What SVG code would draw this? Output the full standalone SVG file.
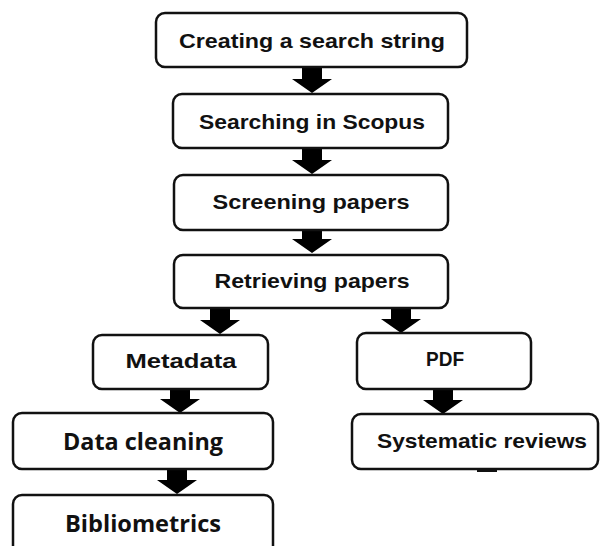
<svg xmlns="http://www.w3.org/2000/svg" xmlns:xlink="http://www.w3.org/1999/xlink" width="600" height="546" viewBox="0 0 600 546">
<style>
.box{fill:#fff;stroke:#111;stroke-width:2.5}
.t{font-family:"Liberation Sans",Arial,sans-serif;font-weight:bold;font-size:21px;fill:#111;text-anchor:middle}
.c{font-family:"Open Sans","Liberation Sans",sans-serif;font-weight:bold;font-size:23px;fill:#111;text-anchor:middle}
.arr{fill:#000}
</style>
<defs>
<path id="arr" d="M-10,-32 H10 V-14 H20 L0,0 L-20,-14 H-10 Z"/>
</defs>
<rect width="600" height="546" fill="#fff"/>
<g id="connectors" class="arr">
<use xlink:href="#arr" x="312" y="93"/>
<use xlink:href="#arr" x="312" y="174"/>
<use xlink:href="#arr" x="312" y="253"/>
<use xlink:href="#arr" x="220" y="334"/>
<use xlink:href="#arr" x="401" y="333"/>
<use xlink:href="#arr" x="180" y="413"/>
<use xlink:href="#arr" x="177" y="494"/>
<use xlink:href="#arr" x="443" y="414"/>
</g>
<g id="n1"><rect class="box" x="156" y="13" width="311" height="54" rx="9"/><text class="t" x="312" y="48" textLength="266" lengthAdjust="spacingAndGlyphs">Creating a search string</text></g>
<g id="n2"><rect class="box" x="173" y="94" width="275" height="54" rx="9"/><text class="t" x="312" y="129" textLength="226" lengthAdjust="spacingAndGlyphs">Searching in Scopus</text></g>
<g id="n3"><rect class="box" x="174" y="175" width="274" height="55" rx="9"/><text class="t" x="311" y="209" textLength="197" lengthAdjust="spacingAndGlyphs">Screening papers</text></g>
<g id="n4"><rect class="box" x="174" y="255" width="274" height="53" rx="9"/><text class="t" x="312" y="288" textLength="195" lengthAdjust="spacingAndGlyphs">Retrieving papers</text></g>
<g id="n5"><rect class="box" x="93" y="335" width="175" height="54" rx="9"/><text class="t" x="181" y="368" textLength="111" lengthAdjust="spacingAndGlyphs">Metadata</text></g>
<g id="n6"><rect class="box" x="357" y="333" width="174" height="56" rx="9"/><text class="t" x="445" y="366" textLength="38" lengthAdjust="spacingAndGlyphs">PDF</text></g>
<g id="n7"><rect class="box" x="13" y="413" width="260" height="56" rx="9"/><text class="c" x="143" y="450" textLength="160" lengthAdjust="spacingAndGlyphs">Data cleaning</text></g>
<g id="n8"><rect class="box" x="352" y="414" width="246" height="55" rx="9"/><text class="t" x="482" y="448" textLength="210" lengthAdjust="spacingAndGlyphs">Systematic reviews</text><rect x="477" y="469" width="20" height="3" fill="#111"/></g>
<g id="n9"><rect class="box" x="13" y="495" width="260" height="70" rx="9"/><text class="c" x="143" y="532" textLength="156" lengthAdjust="spacingAndGlyphs">Bibliometrics</text></g>
</svg>
